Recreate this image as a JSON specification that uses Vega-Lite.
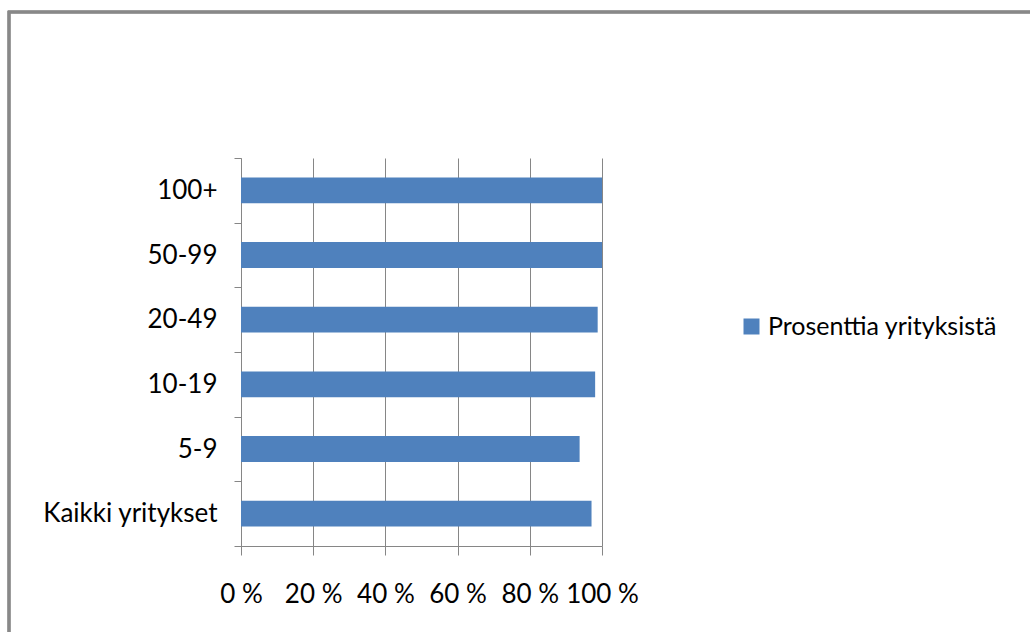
{
  "$schema": "https://vega.github.io/schema/vega-lite/v6.json",
  "autosize": {"type": "none"},
  "padding": {"left": 241, "top": 158, "right": 428, "bottom": 86},
  "width": 361,
  "height": 388,
  "background": "white",
  "config": {
    "font": "Lato",
    "view": {"stroke": null},
    "axis": {"labelFont": "Lato", "labelColor": "#000000", "labelFontSize": 26, "domainColor": "#868686", "tickColor": "#868686", "gridColor": "#868686", "gridOpacity": 1}
  },
  "data": {
    "values": [
      {"ryhma": "100+", "arvo": 100, "sarja": "Prosenttia yrityksistä"},
      {"ryhma": "50-99", "arvo": 100, "sarja": "Prosenttia yrityksistä"},
      {"ryhma": "20-49", "arvo": 98.8, "sarja": "Prosenttia yrityksistä"},
      {"ryhma": "10-19", "arvo": 98.1, "sarja": "Prosenttia yrityksistä"},
      {"ryhma": "5-9", "arvo": 93.8, "sarja": "Prosenttia yrityksistä"},
      {"ryhma": "Kaikki yritykset", "arvo": 97.1, "sarja": "Prosenttia yrityksistä"}
    ]
  },
  "layer": [
    {
      "mark": {"type": "rect", "fill": null, "stroke": "#888888", "strokeWidth": 2.5},
      "encoding": {
        "x": {"value": -232},
        "x2": {"value": 820},
        "y": {"value": -146},
        "y2": {"value": 520}
      }
    },
    {
      "mark": {"type": "bar", "color": "#4F81BD", "height": {"band": 0.4}},
      "encoding": {
        "y": {
          "field": "ryhma", "type": "nominal",
          "sort": ["100+", "50-99", "20-49", "10-19", "5-9", "Kaikki yritykset"],
          "scale": {"paddingInner": 0, "paddingOuter": 0},
          "axis": {"title": null, "tickBand": "extent", "tickSize": 7, "labelPadding": 17, "domainColor": "#868686", "grid": false}
        },
        "x": {
          "field": "arvo", "type": "quantitative",
          "scale": {"domain": [0, 100], "nice": false},
          "axis": {"title": null, "values": [0, 20, 40, 60, 80, 100], "labelExpr": "datum.value + ' %'", "tickSize": 9, "labelPadding": 26, "grid": true, "labelFlush": false}
        },
        "color": {
          "field": "sarja", "type": "nominal",
          "scale": {"range": ["#4F81BD"]},
          "legend": {"title": null, "orient": "none", "legendX": 498, "legendY": 156, "symbolType": "square", "symbolSize": 256, "symbolStrokeWidth": 0, "labelFontSize": 25, "labelFont": "Lato", "labelColor": "#000000", "labelOffset": 4, "labelLimit": 0}
        }
      }
    }
  ]
}
